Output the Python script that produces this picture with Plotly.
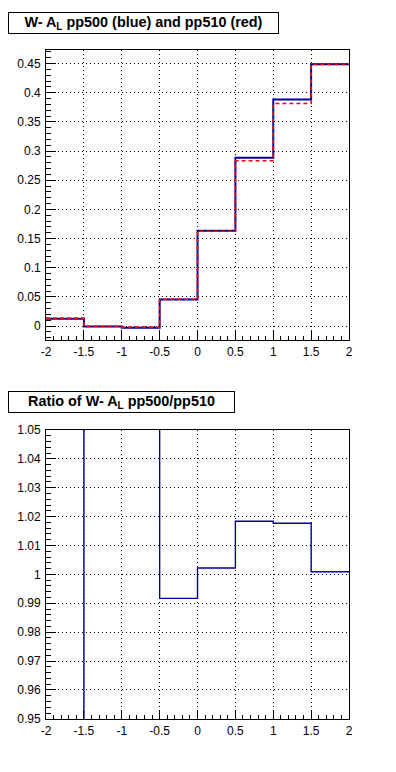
import plotly.graph_objects as go

# ---- data ----
bin_edges = [-2.0, -1.5, -1.0, -0.5, 0.0, 0.5, 1.0, 1.5, 2.0]
al_pp500 = [0.0125, -0.0008, -0.0028, 0.0457, 0.1634, 0.2888, 0.3884, 0.4489]
al_pp510 = [0.0138, -0.0004, -0.0017, 0.0461, 0.1630, 0.2836, 0.3816, 0.4485]
ratio = [0.906, 2.0, 1.6, 0.9917, 1.0022, 1.0184, 1.0177, 1.0009]

x_tickvals = [-2, -1.5, -1, -0.5, 0, 0.5, 1, 1.5, 2]
x_ticktext = ["-2", "-1.5", "-1", "-0.5", "0", "0.5", "1", "1.5", "2"]
top_tickvals = [0, 0.05, 0.1, 0.15, 0.2, 0.25, 0.3, 0.35, 0.4, 0.45]
top_ticktext = ["0", "0.05", "0.1", "0.15", "0.2", "0.25", "0.3", "0.35", "0.4", "0.45"]
bot_tickvals = [0.95, 0.96, 0.97, 0.98, 0.99, 1.0, 1.01, 1.02, 1.03, 1.04, 1.05]
bot_ticktext = ["0.95", "0.96", "0.97", "0.98", "0.99", "1", "1.01", "1.02", "1.03", "1.04", "1.05"]

title_top = "W- A<sub>L</sub> pp500 (blue) and pp510 (red)"
title_bot = "Ratio of W- A<sub>L</sub> pp500/pp510"


def step(edges, vals):
    xs, ys = [], []
    for i, v in enumerate(vals):
        xs += [edges[i], edges[i + 1]]
        ys += [v, v]
    return xs, ys


W, H = 396, 772
NAVY = "#000099"
FAM = "Liberation Sans, Arial, sans-serif"

fig = go.Figure()
x1, y1 = step(bin_edges, al_pp500)
fig.add_trace(go.Scatter(x=x1, y=y1, mode="lines", line=dict(color=NAVY, width=2),
                         xaxis="x", yaxis="y", showlegend=False, hoverinfo="skip"))
x2, y2 = step(bin_edges, al_pp510)
fig.add_trace(go.Scatter(x=x2, y=y2, mode="lines", line=dict(color="#ff0000", width=1.6, dash="4px,3px"),
                         xaxis="x", yaxis="y", showlegend=False, hoverinfo="skip"))
x3, y3 = step(bin_edges, ratio)
fig.add_trace(go.Scatter(x=x3, y=y3, mode="lines", line=dict(color=NAVY, width=1.4),
                         xaxis="x2", yaxis="y2", showlegend=False, hoverinfo="skip"))

font = dict(family=FAM, size=12, color="black")
GRIDDASH = "1px,3px"

def xax(anchor):
    return dict(domain=[42 / W, 352 / W], anchor=anchor, range=[-2, 2],
                tickmode="array", tickvals=x_tickvals, ticktext=x_ticktext,
                ticks="inside", ticklen=9, tickcolor="black", tickwidth=1,
                minor=dict(ticks="inside", ticklen=4, dtick=0.1, tick0=-2, tickcolor="black", showgrid=False),
                showline=True, linecolor="black", linewidth=1, mirror=True,
                showgrid=True, gridcolor="black", griddash=GRIDDASH, gridwidth=1,
                zeroline=False, tickfont=font, ticklabelstandoff=1)

def yax(anchor, dom, rng, tv, tt, minor_dt):
    return dict(domain=dom, anchor=anchor, range=rng,
                tickmode="array", tickvals=tv, ticktext=tt,
                ticks="inside", ticklen=10, tickcolor="black", tickwidth=1,
                minor=dict(ticks="inside", ticklen=5, dtick=minor_dt, tick0=0, tickcolor="black", showgrid=False),
                showline=True, linecolor="black", linewidth=1, mirror=True,
                showgrid=True, gridcolor="black", griddash=GRIDDASH, gridwidth=1,
                zeroline=False, tickfont=font, ticklabelstandoff=2)

fig.update_layout(
    width=W, height=H,
    margin=dict(l=0, r=0, t=0, b=0),
    paper_bgcolor="white", plot_bgcolor="white",
    xaxis=xax("y"),
    yaxis=yax("x", [1 - 339 / H, 1 - 44 / H], [-0.0235, 0.473], top_tickvals, top_ticktext, 0.01),
    xaxis2=xax("y2"),
    yaxis2=yax("x2", [1 - 725 / H, 1 - 430.7 / H], [0.95, 1.05], bot_tickvals, bot_ticktext, 0.002),
    annotations=[
        dict(text="<b>" + title_top + "</b>", xref="paper", yref="paper",
             x=3 / W, y=1 - 5 / H, xanchor="left", yanchor="top", showarrow=False,
             font=dict(family=FAM, size=14.4, color="black"),
             bordercolor="black", borderwidth=1, borderpad=2, bgcolor="white",
             width=265, height=16, align="center"),
        dict(text="<b>" + title_bot + "</b>", xref="paper", yref="paper",
             x=3 / W, y=1 - 391 / H, xanchor="left", yanchor="top", showarrow=False,
             font=dict(family=FAM, size=14.4, color="black"),
             bordercolor="black", borderwidth=1, borderpad=2, bgcolor="white",
             width=221, height=16, align="center"),
    ],
)

fig.write_html("out.html", config={"displayModeBar": False},
               post_script="document.body.style.margin='0';document.body.style.overflow='hidden';")
